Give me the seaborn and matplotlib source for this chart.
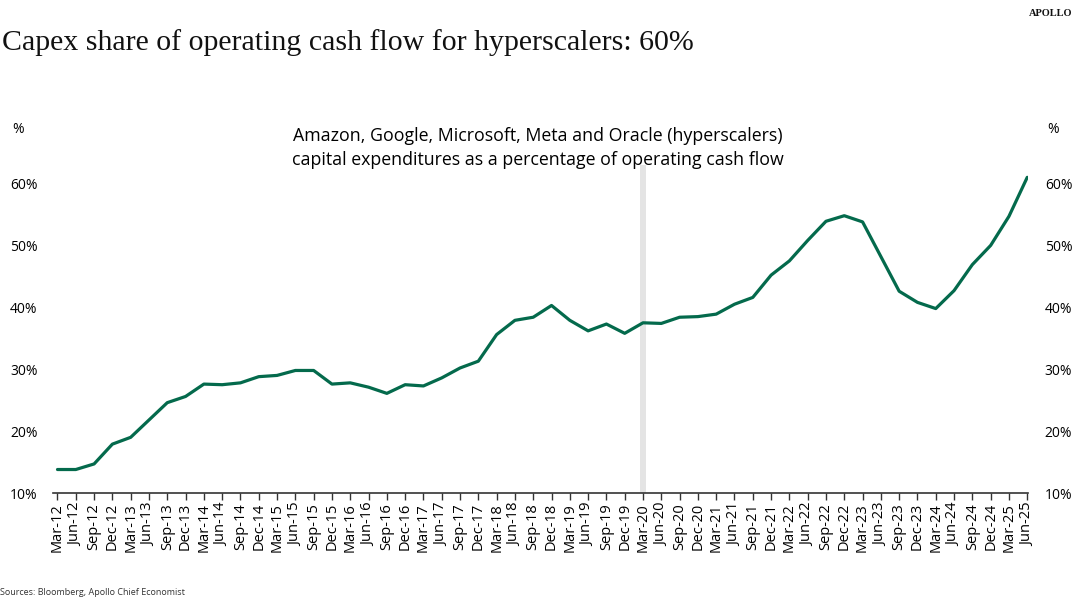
import matplotlib

matplotlib.use("Agg")
import matplotlib.pyplot as plt
import numpy as np
import pandas as pd
import seaborn as sns

# --- Data ---
quarters = [
    "Mar-12", "Jun-12", "Sep-12", "Dec-12",
    "Mar-13", "Jun-13", "Sep-13", "Dec-13",
    "Mar-14", "Jun-14", "Sep-14", "Dec-14",
    "Mar-15", "Jun-15", "Sep-15", "Dec-15",
    "Mar-16", "Jun-16", "Sep-16", "Dec-16",
    "Mar-17", "Jun-17", "Sep-17", "Dec-17",
    "Mar-18", "Jun-18", "Sep-18", "Dec-18",
    "Mar-19", "Jun-19", "Sep-19", "Dec-19",
    "Mar-20", "Jun-20", "Sep-20", "Dec-20",
    "Mar-21", "Jun-21", "Sep-21", "Dec-21",
    "Mar-22", "Jun-22", "Sep-22", "Dec-22",
    "Mar-23", "Jun-23", "Sep-23", "Dec-23",
    "Mar-24", "Jun-24", "Sep-24", "Dec-24",
    "Mar-25", "Jun-25",
]
capex_share = [
    13.8, 13.8, 14.7, 17.9,
    19.0, 21.8, 24.6, 25.6,
    27.6, 27.5, 27.8, 28.8,
    29.0, 29.8, 29.8, 27.6,
    27.8, 27.1, 26.1, 27.5,
    27.3, 28.6, 30.2, 31.3,
    35.6, 37.9, 38.4, 40.3,
    37.9, 36.2, 37.3, 35.8,
    37.5, 37.4, 38.4, 38.5,
    38.9, 40.5, 41.6, 45.2,
    47.5, 50.8, 53.9, 54.8,
    53.8, 48.2, 42.6, 40.8,
    39.8, 42.7, 46.9, 50.0,
    54.7, 61.0,
]
y_ticks = [10, 20, 30, 40, 50, 60]
covid_quarter = "Mar-20"

LINE_COLOR = "#046A4C"
SANS = ["Open Sans", "DejaVu Sans"]
SERIF = ["Liberation Serif", "DejaVu Serif"]

df = pd.DataFrame({"quarter": quarters, "share": capex_share})
df["pos"] = np.arange(len(df))

sns.set_theme(style="white")
plt.rcParams["font.family"] = SANS
plt.rcParams["text.color"] = "black"

fig = plt.figure(figsize=(10.8, 6.02), dpi=100)
ax = fig.add_axes([0.049, 0.181, 0.903, 0.545])

# covid marker band
cpos = quarters.index(covid_quarter)
ax.axvspan(cpos - 0.16, cpos + 0.16, color="#E4E4E4", lw=0, zorder=0)

sns.lineplot(data=df, x="pos", y="share", color=LINE_COLOR, linewidth=2.3, ax=ax, zorder=3)

ax.set_xlim(-0.25, len(quarters) - 0.95)
ax.set_ylim(10, 63)
ax.set_xticks(df["pos"])
ax.set_xticklabels(quarters, rotation=90, fontsize=10.5, color="black")
ax.set_yticks(y_ticks)
ax.set_yticklabels([f"{v}%" for v in y_ticks], fontsize=10, color="black")
ax.set_xlabel("")
ax.set_ylabel("")

for side in ["top", "left", "right"]:
    ax.spines[side].set_visible(False)
ax.spines["bottom"].set_color("#333333")
ax.spines["bottom"].set_linewidth(1.2)
ax.tick_params(axis="x", direction="out", length=5, width=1, color="#333333", pad=2, bottom=True)
ax.tick_params(axis="y", length=0, pad=11)

# right-hand axis labels
ax2 = ax.twinx()
ax2.set_ylim(ax.get_ylim())
ax2.set_yticks(y_ticks)
ax2.set_yticklabels([f"{v}%" for v in y_ticks], fontsize=10, color="black")
ax2.tick_params(axis="y", length=0, pad=12)
for side in ["top", "left", "right", "bottom"]:
    ax2.spines[side].set_visible(False)

# texts
fig.text(0.002, 0.93, "Capex share of operating cash flow for hyperscalers: 60%",
         fontsize=21.5, family=SERIF, va="center", ha="left", color="#111111")
fig.text(0.993, 0.985, "APOLLO", fontsize=7.5, family=SERIF, ha="right", va="top",
         color="#111111", weight="bold")
fig.text(0.498, 0.754,
         "Amazon, Google, Microsoft, Meta and Oracle (hyperscalers)\n"
         "capital expenditures as a percentage of operating cash flow",
         fontsize=12.8, ha="center", va="center", linespacing=1.45, color="black")
fig.text(0.011, 0.785, "%", fontsize=10, ha="left", va="center", color="black")
fig.text(0.970, 0.785, "%", fontsize=10, ha="left", va="center", color="black")
fig.text(0.0, 0.015, "Sources: Bloomberg, Apollo Chief Economist", fontsize=6.5,
         ha="left", va="center", color="#333333")

fig.savefig("out.png", dpi=100)
